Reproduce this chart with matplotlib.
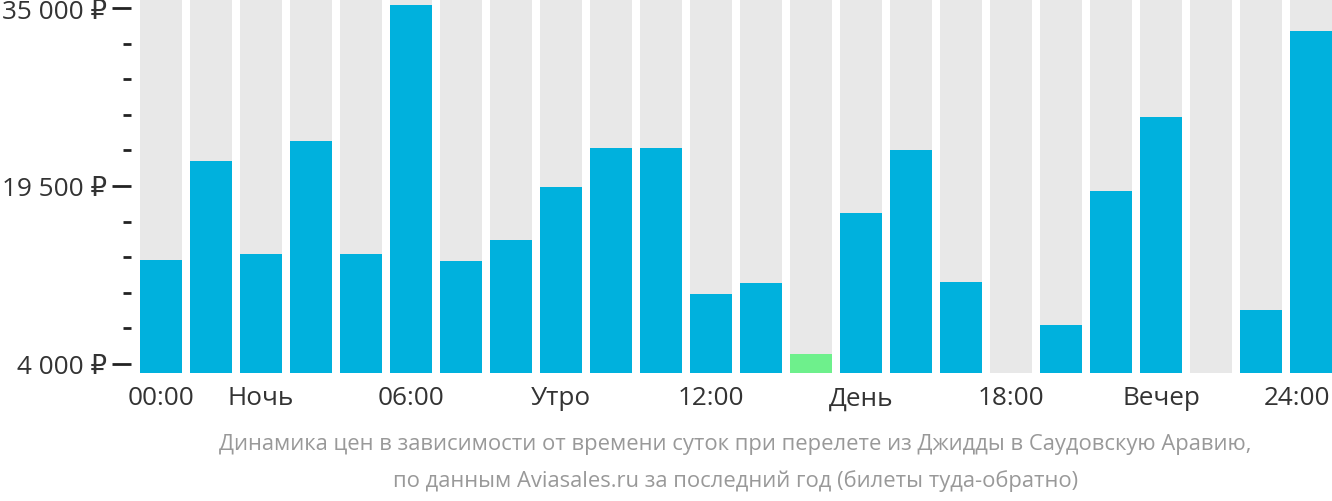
import numpy as np
import matplotlib.pyplot as plt
import matplotlib.transforms as mtransforms

plt.rcParams['font.family'] = ['Open Sans', 'DejaVu Sans']

# average price by departure hour (None = no data)
hours = list(range(24))
prices = [13056, 21677, 13578, 23418, 13578, 35261, 12968, 14797,
          19413, 22809, 22809, 10095, 11053, 4870, 17149, 22635,
          11140, None, 7396, 19065, 25508, None, 8702, 32997]
cheapest_hour = 13

tick_pos = [0, 2, 5, 8, 11, 14, 17, 20, 23]
tick_labels = ['00:00', 'Ночь', '06:00', 'Утро', '12:00', 'День', '18:00', 'Вечер', '24:00']
y_major = [4000, 19500, 35000]
y_labels = ['4 000 ₽', '19 500 ₽', '35 000 ₽']

ymin, ymax = 3216, 35784

fig = plt.figure(figsize=(13.32, 5.02), dpi=100)
ax = fig.add_axes([131 / 1332, 1 - 374 / 502, 1201 / 1332, 374 / 502])

# grey background columns
ax.bar(hours, [ymax - ymin] * 24, bottom=ymin, width=0.84, color='#e8e8e8')

vals = [p if p is not None else ymin for p in prices]
colors = ['#6ef08c' if h == cheapest_hour else '#00b1dd' for h in hours]
ax.bar(hours, np.array(vals) - ymin, bottom=ymin, width=0.84, color=colors)

ax.set_xlim(-0.6, 23.42)
ax.set_ylim(ymin, ymax)

ax.set_yticks(y_major)
ax.set_yticklabels(y_labels)
ax.set_yticks(np.arange(4000, 35001, 3100), minor=True)
ax.tick_params(axis='y', which='major', length=14, width=2, color='#222222',
               labelsize=18.8, labelcolor='#333333', pad=3)
ax.tick_params(axis='y', which='minor', length=6, width=2, color='#222222')

ax.set_xticks(tick_pos)
ax.set_xticklabels(tick_labels)
ax.tick_params(axis='x', length=0, labelsize=18.8, labelcolor='#333333', pad=9)

# keep the last label inside the figure
last = ax.get_xticklabels()[-1]
last.set_transform(last.get_transform() +
                   mtransforms.ScaledTranslation(-0.14, 0, fig.dpi_scale_trans))

for s in ax.spines.values():
    s.set_visible(False)

fig.text(0.552, 1 - 445 / 502,
         'Динамика цен в зависимости от времени суток при перелете из Джидды в Саудовскую Аравию,',
         ha='center', va='center', fontsize=15.8, color='#999999')
fig.text(0.552, 1 - 481 / 502,
         'по данным Aviasales.ru за последний год (билеты туда-обратно)',
         ha='center', va='center', fontsize=15.8, color='#999999')

fig.savefig('out.png', dpi=100)
